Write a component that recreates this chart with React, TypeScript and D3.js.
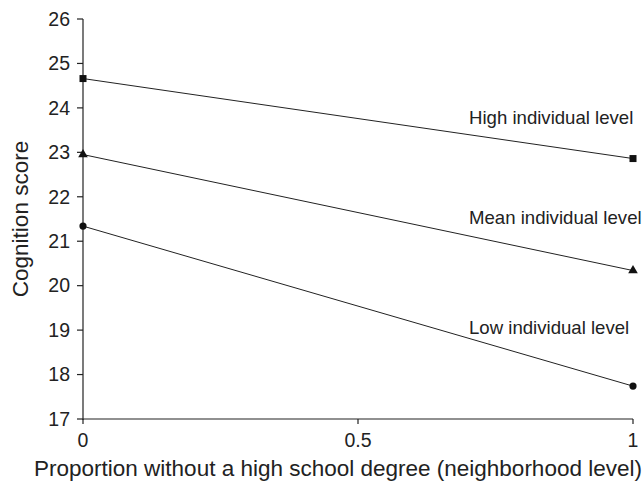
import React from "react";
import * as d3 from "d3";

const xValues = [0, 1];
const highValues = [24.66, 22.86];
const meanValues = [22.95, 20.34];
const lowValues = [21.34, 17.74];
const seriesLabels = ["High individual level", "Mean individual level", "Low individual level"];
const yTicks = [17, 18, 19, 20, 21, 22, 23, 24, 25, 26];
const xTicks = [0, 0.5, 1];
const xTickLabels = ["0", "0.5", "1"];

const W = 644;
const H = 483;
const left = 83;
const right = 633;
const top = 19;
const bottom = 419;

export default function App() {
  const x = d3.scaleLinear().domain([0, 1]).range([left, right]);
  const y = d3.scaleLinear().domain([17, 26]).range([bottom, top]);
  const line = d3
    .line<number>()
    .x((_, i) => x(xValues[i]))
    .y((d) => y(d));

  const series = [
    { vals: highValues, shape: "square", label: seriesLabels[0], ly: 117 },
    { vals: meanValues, shape: "triangle", label: seriesLabels[1], ly: 217 },
    { vals: lowValues, shape: "circle", label: seriesLabels[2], ly: 327 },
  ];

  const marker = (shape: string, cx: number, cy: number, key: string) => {
    if (shape === "square")
      return <rect key={key} x={cx - 3.5} y={cy - 3.5} width={7} height={7} fill="#111" />;
    if (shape === "triangle") {
      const p = d3.symbol(d3.symbolTriangle, 40)();
      return <path key={key} d={p || ""} transform={`translate(${cx},${cy})`} fill="#111" />;
    }
    return <circle key={key} cx={cx} cy={cy} r={3.6} fill="#111" />;
  };

  return (
    <svg
      width={W}
      height={H}
      style={{ position: "absolute", left: 0, top: 0, background: "#fff" }}
      fontFamily="Liberation Sans, Arial, sans-serif"
    >
      <rect width={W} height={H} fill="#fff" />
      <line x1={left} x2={left} y1={top} y2={bottom + 1} stroke="#222" strokeWidth={1.2} />
      <line x1={left} x2={right} y1={bottom} y2={bottom} stroke="#222" strokeWidth={1.2} />
      {yTicks.map((t) => (
        <g key={t}>
          <line x1={left - 6} x2={left} y1={y(t)} y2={y(t)} stroke="#222" strokeWidth={1.2} />
          <text x={left - 13} y={y(t)} dy="0.35em" textAnchor="end" fontSize={19.5} fill="#222">
            {t}
          </text>
        </g>
      ))}
      {xTicks.map((t, i) => (
        <g key={t}>
          <line x1={x(t)} x2={x(t)} y1={bottom} y2={bottom + 5} stroke="#222" strokeWidth={1.2} />
          <text x={x(t)} y={bottom + 28} textAnchor="middle" fontSize={19.5} fill="#222">
            {xTickLabels[i]}
          </text>
        </g>
      ))}
      <text
        transform={`translate(28,${(top + bottom) / 2}) rotate(-90)`}
        textAnchor="middle"
        fontSize={22.5}
        fill="#222"
      >
        Cognition score
      </text>
      <text x={338} y={476} textAnchor="middle" fontSize={22.5} fill="#222">
        Proportion without a high school degree (neighborhood level)
      </text>
      {series.map((s, si) => (
        <g key={si}>
          <path d={line(s.vals) || ""} fill="none" stroke="#222" strokeWidth={1} />
          {s.vals.map((v, i) => marker(s.shape, x(xValues[i]), y(v), `${si}-${i}`))}
          <text x={469} y={s.ly} dy="0.35em" fontSize={18.6} fill="#222">
            {s.label}
          </text>
        </g>
      ))}
    </svg>
  );
}
